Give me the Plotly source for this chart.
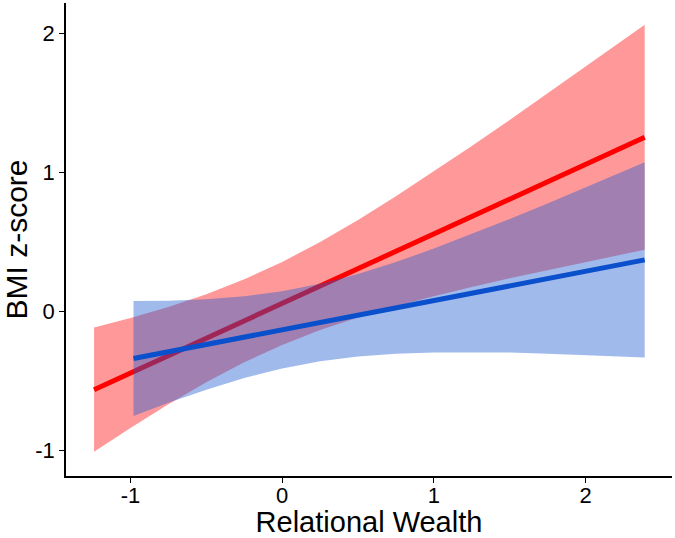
import plotly.graph_objects as go

# Red group (fitted line and confidence band)
red_x = [-1.24, -1.0, -0.75, -0.5, -0.25, 0.0, 0.25, 0.5, 0.75, 1.0, 1.25, 1.5, 1.75, 2.0, 2.2, 2.39]
red_fit = [-0.565, -0.445, -0.320, -0.195, -0.069, 0.056, 0.181, 0.306, 0.432, 0.557, 0.682, 0.808, 0.933, 1.058, 1.158, 1.253]
red_upper = [-0.118, -0.049, 0.031, 0.122, 0.230, 0.355, 0.498, 0.657, 0.828, 1.006, 1.190, 1.378, 1.569, 1.761, 1.916, 2.064]
red_lower = [-1.012, -0.841, -0.671, -0.512, -0.368, -0.243, -0.136, -0.045, 0.036, 0.108, 0.174, 0.238, 0.297, 0.355, 0.400, 0.443]

# Blue group
blue_x = [-0.98, -0.75, -0.5, -0.25, 0.0, 0.25, 0.5, 0.75, 1.0, 1.25, 1.5, 1.75, 2.0, 2.2, 2.39]
blue_fit = [-0.341, -0.292, -0.240, -0.187, -0.134, -0.081, -0.029, 0.024, 0.077, 0.130, 0.183, 0.235, 0.288, 0.330, 0.370]
blue_upper = [0.073, 0.076, 0.086, 0.107, 0.144, 0.198, 0.268, 0.354, 0.451, 0.555, 0.664, 0.776, 0.891, 0.984, 1.073]
blue_lower = [-0.755, -0.660, -0.566, -0.481, -0.412, -0.360, -0.326, -0.306, -0.297, -0.295, -0.298, -0.306, -0.315, -0.324, -0.333]

x_ticks = [-1, 0, 1, 2]
y_ticks = [-1, 0, 1, 2]

fig = go.Figure()

def band(xs, up, lo, color):
    return go.Scatter(
        x=xs + xs[::-1], y=up + lo[::-1], fill="toself", fillcolor=color,
        line=dict(width=0), mode="lines", hoverinfo="skip", showlegend=False)

fig.add_trace(band(red_x, red_upper, red_lower, "rgba(255,0,0,0.4)"))
fig.add_trace(go.Scatter(x=red_x, y=red_fit, mode="lines",
                         line=dict(color="#FF0000", width=5), showlegend=False))
fig.add_trace(band(blue_x, blue_upper, blue_lower, "rgba(30,90,210,0.42)"))
fig.add_trace(go.Scatter(x=blue_x, y=blue_fit, mode="lines",
                         line=dict(color="#0A4FCB", width=5), showlegend=False))

font = "Liberation Sans, Arial, sans-serif"
fig.update_layout(
    width=675, height=538,
    margin=dict(l=66, r=3, t=3, b=62),
    paper_bgcolor="white", plot_bgcolor="white",
    font=dict(family=font, color="black"),
    showlegend=False,
)
fig.update_xaxes(
    range=[-1.425, 2.57], tickvals=x_ticks, ticktext=[str(v) for v in x_ticks],
    showgrid=False, zeroline=False, showline=True, linecolor="black", linewidth=1.6,
    ticks="outside", ticklen=5, tickwidth=1.4, tickcolor="black", automargin=False,
    ticklabelstandoff=-6,
    tickfont=dict(size=22, family=font, color="black"),
    title=dict(text="Relational Wealth", font=dict(size=29, family=font, color="black"), standoff=8),
)
fig.update_yaxes(
    range=[-1.187, 2.22], tickvals=y_ticks, ticktext=[str(v) for v in y_ticks],
    showgrid=False, zeroline=False, showline=True, linecolor="black", linewidth=1.6,
    ticks="outside", ticklen=5, tickwidth=1.4, tickcolor="black", automargin=False,
    tickfont=dict(size=22, family=font, color="black"),
    title=dict(text="BMI z-score", font=dict(size=30, family=font, color="black"), standoff=10),
)

fig.write_html("out.html", config={"displayModeBar": False},
               post_script="document.body.style.margin='0';")
